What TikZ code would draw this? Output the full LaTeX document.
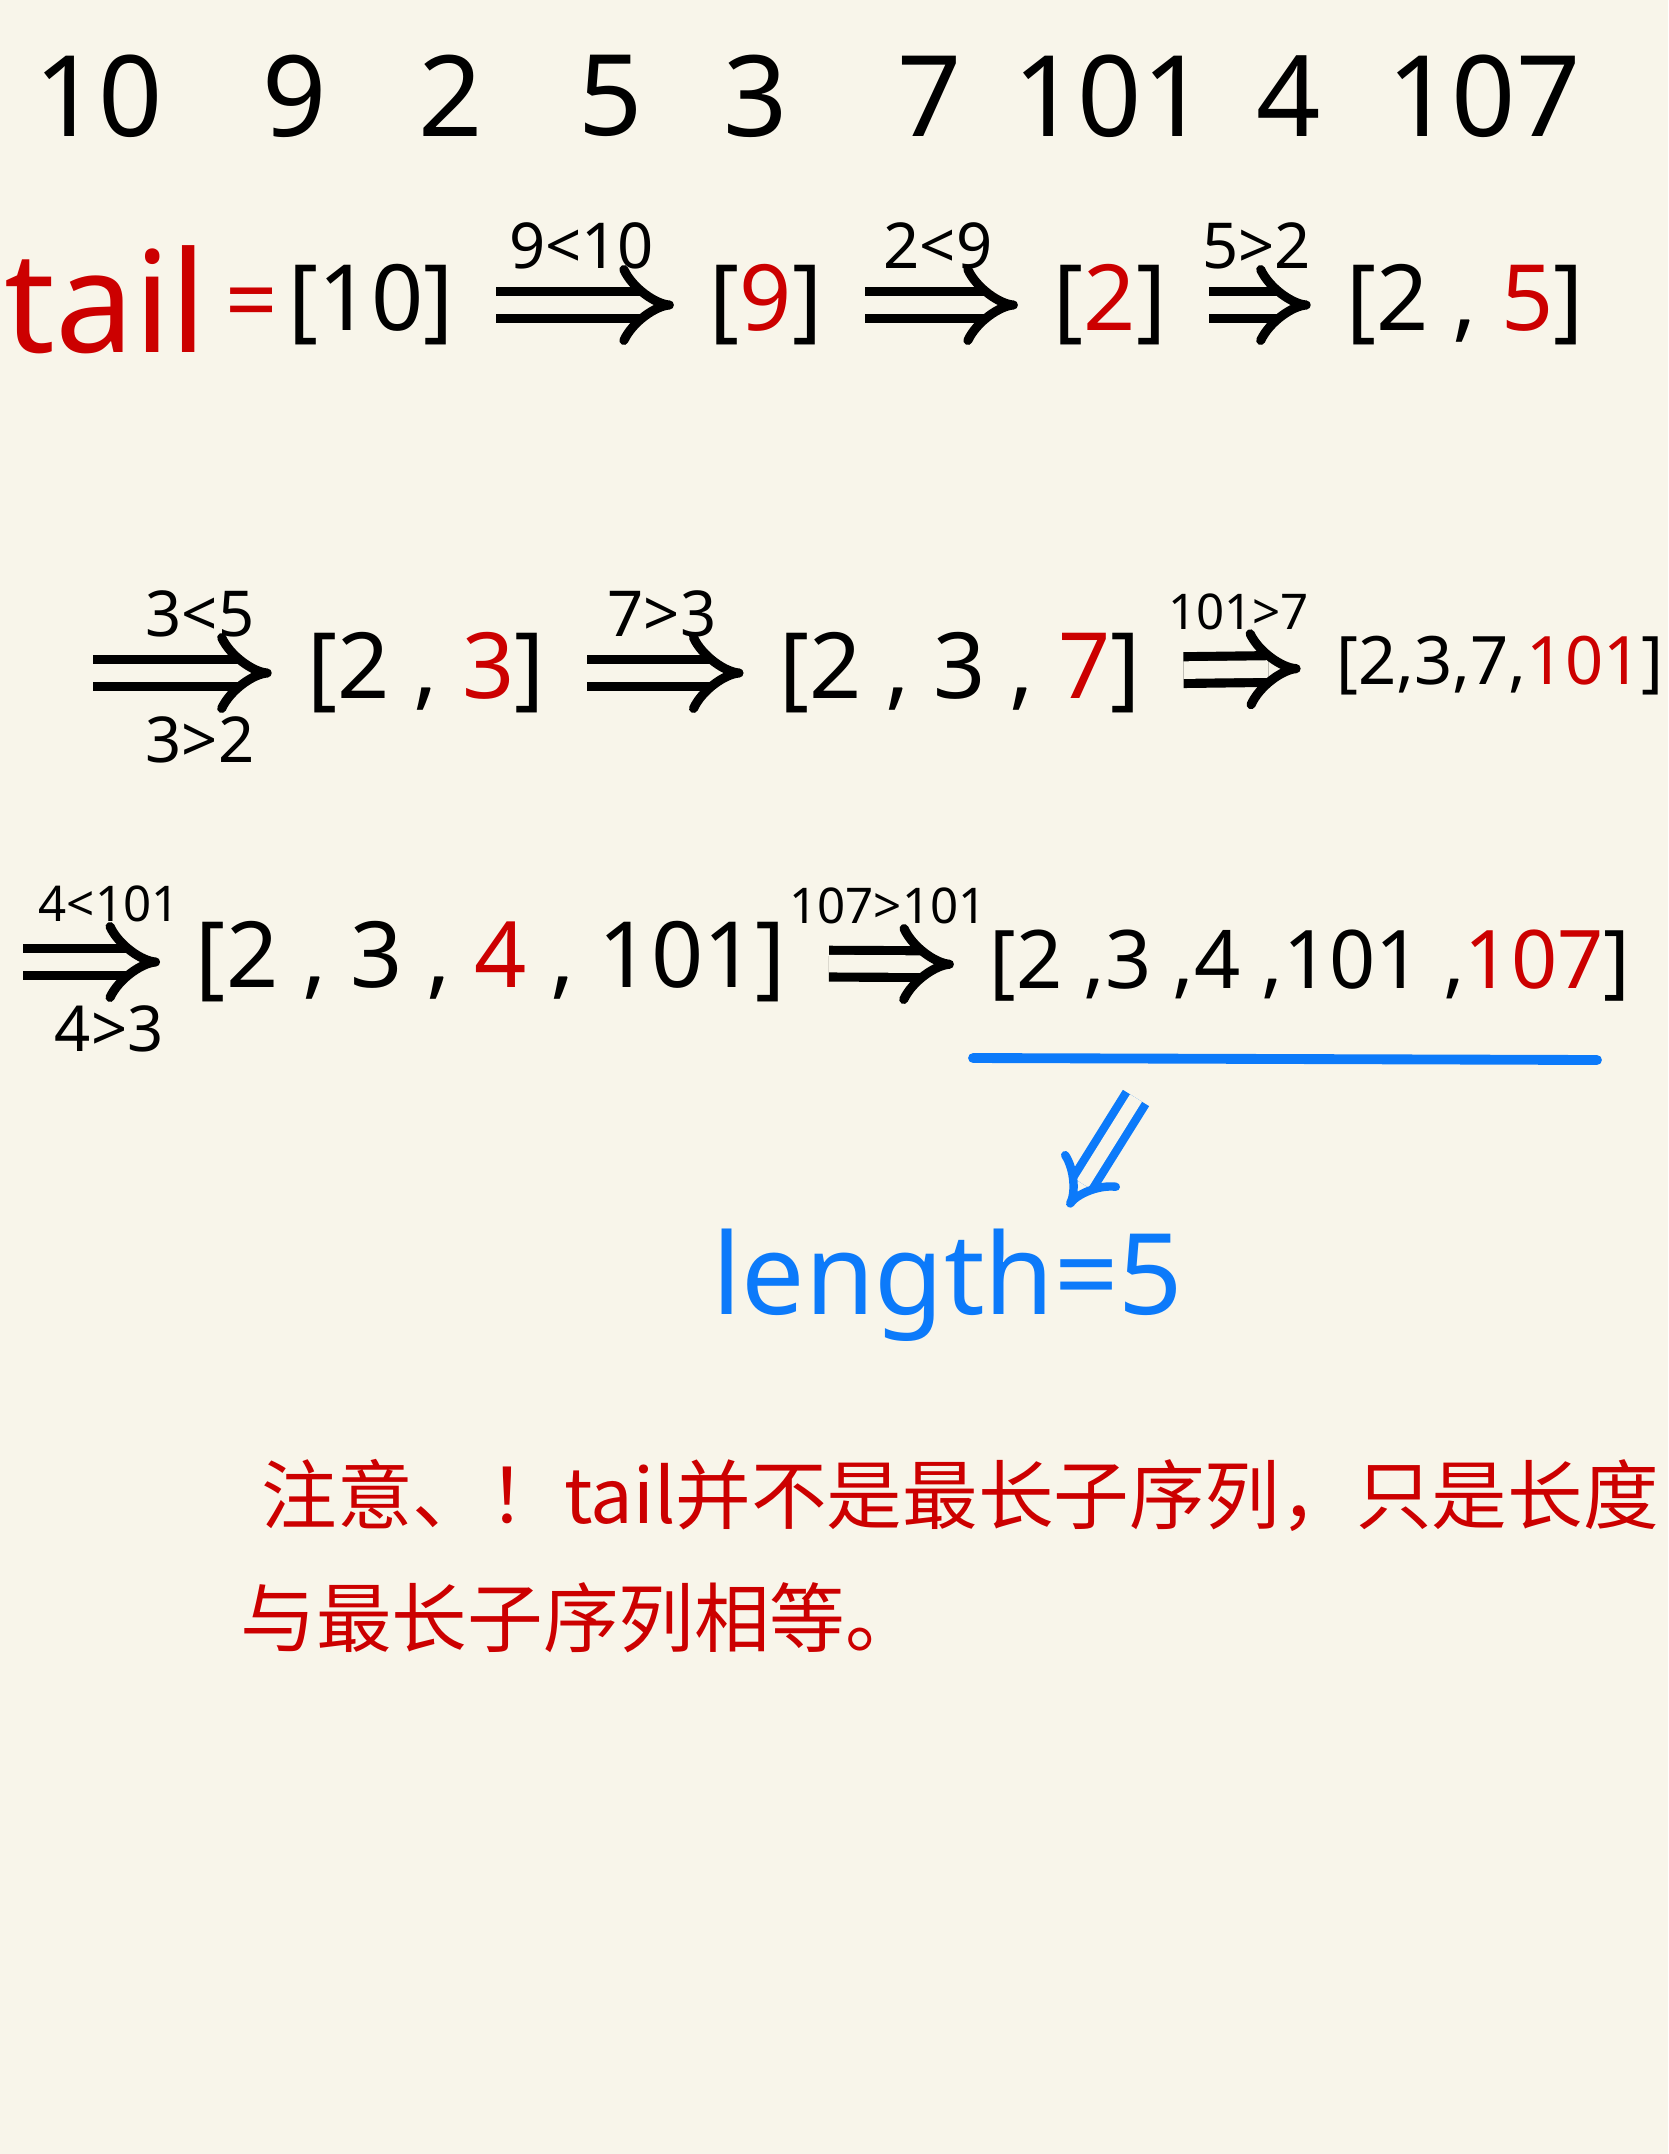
\documentclass[tikz,border=0pt]{standalone}
\usepackage{fontspec}
\setmainfont{Noto Sans}
\newfontfamily\cjk{Noto Sans CJK SC}
\usetikzlibrary{arrows.meta, positioning}
\definecolor{paper}{RGB}{248,245,234}
\definecolor{inkred}{RGB}{204,0,0}
\definecolor{inkblue}{RGB}{12,122,250}

\begin{document}
\begin{tikzpicture}[
        x=0.01cm, y=-0.01cm,
        num/.style  = {font=\fontsize{32}{38}\selectfont, inner sep=0pt},
        lst/.style  = {font=\fontsize{26}{30}\selectfont, inner sep=0pt},
        cmp/.style  = {font=\fontsize{18}{22}\selectfont, inner sep=0pt},
        cmps/.style = {font=\fontsize{14}{17}\selectfont, inner sep=0pt},
        imp/.style  = {double=paper, double distance=5pt, line width=2.6pt, -{Implies}, shorten <=12pt, shorten >=10pt},
        note/.style = {font=\cjk\fontsize{21.5}{25}\selectfont, text=inkred, inner sep=0pt, anchor=west},
        hl/.style   = {inkblue, line width=2.8pt, line cap=round}
    ]
        \useasboundingbox (0,0) rectangle (1668,2154);
        \fill[paper] (0,0) rectangle (1668,2154);

        \node[num] (n1) at (99,96)   {10};
        \node[num] (n2) at (295,96)  {9};
        \node[num] (n3) at (451,96)  {2};
        \node[num] (n4) at (611,96)  {5};
        \node[num] (n5) at (756,96)  {3};
        \node[num] (n6) at (930,96)  {7};
        \node[num] (n7) at (1110,96) {101};
        \node[num] (n8) at (1289,96) {4};
        \node[num] (n9) at (1484,96) {107};

        \node[font=\fontsize{40}{48}\selectfont, text=inkred, inner sep=0pt] (tail) at (106,300) {tail};
        \node[lst, text=inkred] (eq) at (252,310) {=};
        \node[lst] (s1) at (371,305)  {[10]};
        \node[lst] (s2) at (766,305)  {[\textcolor{inkred}{9}]};
        \node[lst] (s3) at (1110,305) {[\textcolor{inkred}{2}]};
        \node[lst] (s4) at (1465,305) {[2 , \textcolor{inkred}{5}]};

        \draw[imp] (s1) -- node[cmp, above=9pt] (c1) {9<10} (s2);
        \draw[imp] (s2) -- node[cmp, above=9pt] (c2) {2<9} (s3);
        \draw[imp] (s3) -- node[cmp, above=9pt] (c3) {5>2} (s4);

        \coordinate (r2) at (93,673);
        \node[lst] (s5) at (426,673)  {[2 , \textcolor{inkred}{3}]};
        \node[lst] (s6) at (960,673)  {[2 , 3 , \textcolor{inkred}{7}]};
        \node[lst, font=\fontsize{19}{23}\selectfont] (s7) at (1500,666) {[2,3,7,\textcolor{inkred}{101}]};

        \draw[imp, shorten <=0pt] (r2) -- node[cmp, above=9pt] (c4) {3<5} node[cmp, below=11pt] (c5) {3>2} (s5);
        \draw[imp] (s5) -- node[cmp, above=9pt] (c6) {7>3} (s6);
        \draw[imp] (s6) -- node[cmps, above=10pt] (c7) {101>7} (s7);

        \coordinate (r3) at (23,962);
        \node[lst] (s8) at (491,962)  {[2 , 3 , \textcolor{inkred}{4} , 101]};
        \node[lst, font=\fontsize{23}{27}\selectfont] (s9) at (1310,966) {[2 ,3 ,4 ,101 ,\textcolor{inkred}{107}]};

        \draw[imp, shorten <=0pt] (r3) -- node[cmps, above=10pt] (c8) {4<101} node[cmp, below=11pt] (c9) {4>3} (s8);
        \draw[imp] (s8) -- node[cmps, above=10pt] (c10) {107>101} (s9);

        \coordinate (ul1) at (973,1058);
        \coordinate (ul2) at (1597,1060);
        \draw[hl] (ul1) -- (ul2);

        \node[font=\fontsize{32}{38}\selectfont, text=inkblue, inner sep=0pt] (len) at (948,1285) {length=5};
        \coordinate (dsrc) at (1136,1098);
        \coordinate (dtip) at (1068,1207);
        \draw[double=paper, double distance=4pt, line width=2.4pt, inkblue, -{Implies}] (dsrc) -- (dtip);

        \node[note] (w1) at (261,1495) {注意、！tail并不是最长子序列，只是长度};
        \node[note] (w2) at (240,1618) {与最长子序列相等。};
    \end{tikzpicture}
\end{document}
